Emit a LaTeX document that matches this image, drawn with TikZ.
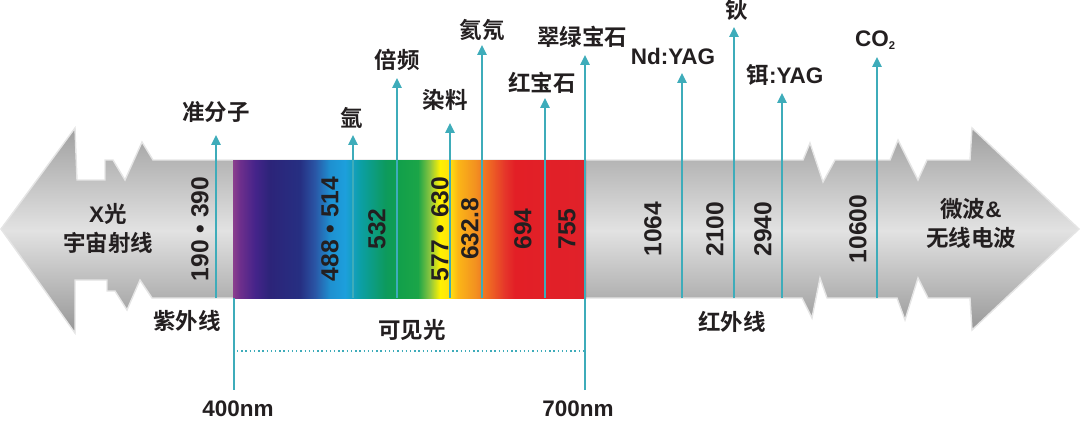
\documentclass[tikz,border=0pt]{standalone}
\usepackage{fontspec}
\setmainfont{Noto Sans CJK SC}[BoldFont={Noto Sans CJK SC Bold}]
\newfontfamily\latfont{Liberation Sans}
\usetikzlibrary{arrows.meta}

\definecolor{raycol}{RGB}{62,172,186}
\definecolor{ink}{RGB}{35,31,32}
\definecolor{bandtop}{RGB}{160,160,160}
\definecolor{bandmid}{RGB}{226,226,226}
\definecolor{bandbot}{RGB}{150,150,150}
\definecolor{spA}{HTML}{8B3F8E}
\definecolor{spB}{HTML}{6E2F8C}
\definecolor{spC}{HTML}{45248A}
\definecolor{spD}{HTML}{2C2479}
\definecolor{spE}{HTML}{262F82}
\definecolor{spF}{HTML}{2A55A5}
\definecolor{spG}{HTML}{1E90D0}
\definecolor{spH}{HTML}{1D9FDC}
\definecolor{spI}{HTML}{0C9FA6}
\definecolor{spJ}{HTML}{0D9A5E}
\definecolor{spK}{HTML}{12A04A}
\definecolor{spL}{HTML}{1BA548}
\definecolor{spM}{HTML}{8DC63F}
\definecolor{spN}{HTML}{FFF200}
\definecolor{spO}{HTML}{FFE010}
\definecolor{spP}{HTML}{FBB517}
\definecolor{spQ}{HTML}{F39220}
\definecolor{spR}{HTML}{EE6424}
\definecolor{spS}{HTML}{E5352A}
\definecolor{spT}{HTML}{E31F26}
\definecolor{spU}{HTML}{E0212A}

\pgfdeclarehorizontalshading{spectrum}{100bp}{
  color(0bp)=(spA); color(25bp)=(spA); color(26bp)=(spB);
  color(28.12bp)=(spC); color(30.24bp)=(spD); color(34.49bp)=(spE);
  color(36.61bp)=(spF); color(38.74bp)=(spG); color(40.86bp)=(spH);
  color(42.99bp)=(spI); color(46.53bp)=(spJ); color(48.65bp)=(spK);
  color(51.2bp)=(spL); color(52.9bp)=(spM); color(54.32bp)=(spN);
  color(55.74bp)=(spO); color(56.87bp)=(spP); color(59.28bp)=(spQ);
  color(61.4bp)=(spR); color(63.53bp)=(spS); color(64.94bp)=(spT);
  color(75bp)=(spU); color(100bp)=(spU)}

\begin{document}
\begin{tikzpicture}[
    x=0.025cm, y=-0.025cm,
    lbl/.style={font=\bfseries\fontsize{16}{19}\selectfont,text=ink,inner sep=0pt},
    twoline/.style={lbl,align=center,font=\bfseries\fontsize{16}{20.6}\selectfont},
    num/.style={font=\latfont\bfseries\fontsize{17.5}{20}\selectfont,text=ink,inner sep=0pt,rotate=90},
    ray/.style={draw=raycol,line width=1.4pt,-{Triangle[length=7pt,width=6.5pt]}},
    guide/.style={draw=raycol,line width=1.4pt}]
  \useasboundingbox (0,0) rectangle (1080,421);
  \shade[top color=bandtop,bottom color=bandbot,middle color=bandmid,draw=gray!20,line width=1pt]
    (1,229) -- (75,128) -- (77,180) -- (105,180) -- (105,160) -- (113,160) -- (125,180)
    -- (142,142) -- (153,160) -- (803,160) -- (810,143) -- (823,182) -- (835,160)
    -- (890,160) -- (898,140) -- (918,180) -- (927,160) -- (970,160) -- (972,128)
    -- (1079,229) -- (972,330) -- (970,298) -- (928,298) -- (918,278) -- (905,320)
    -- (897,298) -- (827,298) -- (820,278) -- (812,318) -- (802,298) -- (152,298)
    -- (140,280) -- (127,310) -- (115,291) -- (107,291) -- (107,280) -- (75,280)
    -- (75,333) -- cycle;
  \shade[shading=spectrum] (233,160) rectangle (586,298);

  \node[twoline] (xray) at (108,228) {{\latfont X}光\\宇宙射线};
  \node[twoline] (radio) at (971,223) {微波{\latfont\&}\\无线电波};

  \node[num] (n190) at (200,229) {190 • 390};
  \node[num] (n488) at (330,229) {488 • 514};
  \node[num] (n532) at (377,229) {532};
  \node[num] (n577) at (440,229) {577 • 630};
  \node[num] (n632) at (470,229) {632.8};
  \node[num] (n694) at (523,229) {694};
  \node[num] (n755) at (567,229) {755};
  \node[num] (n1064) at (653,229) {1064};
  \node[num] (n2100) at (715,229) {2100};
  \node[num] (n2940) at (763,229) {2940};
  \node[num] (n10600) at (858,229) {10600};

  \node[lbl] (excimer) at (216,112) {准分子};
  \node[lbl] (argon) at (352,118) {氩};
  \node[lbl] (shg) at (397,60) {倍频};
  \node[lbl] (dye) at (445,100) {染料};
  \node[lbl] (hene) at (482,30) {氦氖};
  \node[lbl] (ruby) at (542,83) {红宝石};
  \node[lbl] (alex) at (582,37) {翠绿宝石};
  \node[lbl] (ndyag) at (673,56) {\latfont Nd:YAG};
  \node[lbl] (ho) at (737,10) {钬};
  \node[lbl] (eryag) at (785,75) {铒{\latfont :YAG}};
  \node[lbl] (co2) at (875,40) {\latfont CO\raisebox{-2.5pt}{\fontsize{8}{8}\selectfont 2}};

  \coordinate (excimer-b) at (216,298); \coordinate (excimer-t) at (216,135);
  \coordinate (argon-b) at (353,298);   \coordinate (argon-t) at (353,135);
  \coordinate (shg-b) at (397,298);     \coordinate (shg-t) at (397,78);
  \coordinate (dye-b) at (450,298);     \coordinate (dye-t) at (450,123);
  \coordinate (hene-b) at (482,298);    \coordinate (hene-t) at (482,45);
  \coordinate (ruby-b) at (545,298);    \coordinate (ruby-t) at (545,98);
  \coordinate (alex-b) at (585,390);    \coordinate (alex-t) at (585,55);
  \coordinate (ndyag-b) at (682,298);   \coordinate (ndyag-t) at (682,73);
  \coordinate (ho-b) at (734,298);      \coordinate (ho-t) at (734,27);
  \coordinate (eryag-b) at (782,298);   \coordinate (eryag-t) at (782,93);
  \coordinate (co2-b) at (877,298);     \coordinate (co2-t) at (877,57);
  \coordinate (vis-l) at (234,298);     \coordinate (vis-lb) at (234,390);

  \draw[ray] (excimer-b) -- (excimer-t);
  \draw[ray] (argon-b) -- (argon-t);
  \draw[ray] (shg-b) -- (shg-t);
  \draw[ray] (dye-b) -- (dye-t);
  \draw[ray] (hene-b) -- (hene-t);
  \draw[ray] (ruby-b) -- (ruby-t);
  \draw[ray] (alex-b) -- (alex-t);
  \draw[ray] (ndyag-b) -- (ndyag-t);
  \draw[ray] (ho-b) -- (ho-t);
  \draw[ray] (eryag-b) -- (eryag-t);
  \draw[ray] (co2-b) -- (co2-t);
  \draw[guide] (vis-l) -- (vis-lb);

  \node[lbl] (uv) at (187,321) {紫外线};
  \node[lbl] (visible) at (412,330) {可见光};
  \node[lbl] (ir) at (732,322) {红外线};
  \coordinate (span-l) at (237,351); \coordinate (span-r) at (583,351);
  \draw[draw=raycol,line width=1pt,dotted] (span-l) -- (span-r);
  \node[lbl] (nm400) at (238,409) {\latfont 400nm};
  \node[lbl] (nm700) at (578,409) {\latfont 700nm};
\end{tikzpicture}
\end{document}
